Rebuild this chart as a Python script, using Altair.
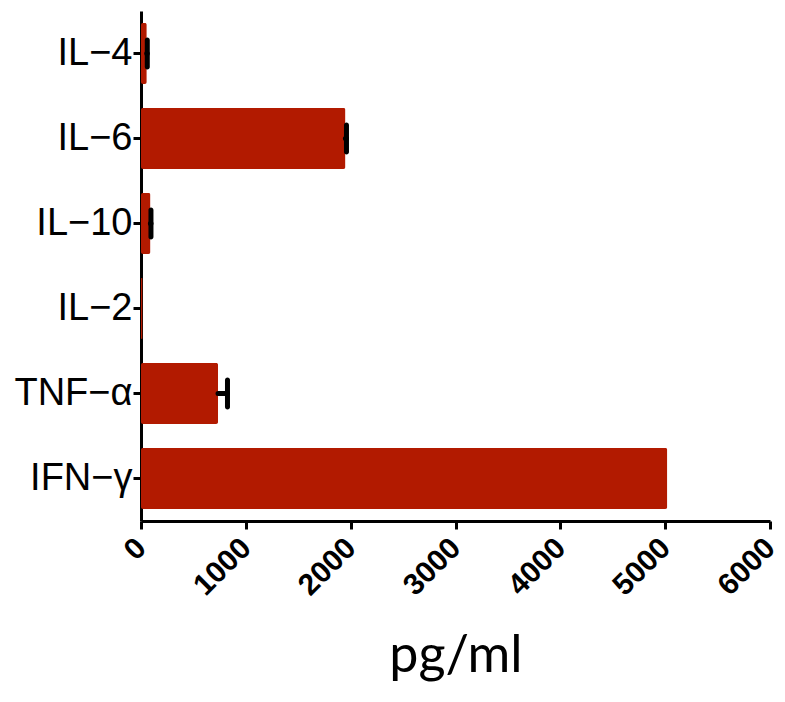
import altair as alt
import pandas as pd

cytokines = ["IL\u22124", "IL\u22126", "IL\u221210", "IL\u22122", "TNF\u2212\u03b1", "IFN\u2212\u03b3"]
means = [55, 1950, 90, 15, 735, 5020]
errors = [5, 10, 5, 0, 90, 0]
x_ticks = [0, 1000, 2000, 3000, 4000, 5000, 6000]

df = pd.DataFrame({"cytokine": cytokines, "mean": means, "err": errors})
df["upper"] = df["mean"] + df["err"]
df_err = df[df["err"] > 0]

red = "#b21a00"

y_axis = alt.Axis(labelFont="Liberation Sans", labelFontSize=38, labelColor="black",
                  labelPadding=1, tickSize=8, tickWidth=3, tickColor="black",
                  domainWidth=3, domainColor="black", grid=False)
x_axis = alt.Axis(values=x_ticks, format="d", labelAngle=-45, labelFont="Liberation Sans",
                  labelFontWeight="bold", labelFontSize=30, labelColor="black",
                  labelAlign="right", labelBaseline="middle",
                  labelPadding=14, labelOverlap=False, labelFlush=False,
                  tickSize=8, tickWidth=3, tickColor="black",
                  domainWidth=3, domainColor="black", grid=False,
                  titleFont="Lato", titleFontSize=52, titleFontWeight="normal",
                  titleColor="black", titlePadding=30)
y_scale = alt.Scale(paddingInner=0.28, paddingOuter=0.14)
x_scale = alt.Scale(domain=[0, 6000], nice=False)


def yenc():
    return alt.Y("cytokine:N", sort=cytokines, title=None, scale=y_scale, axis=y_axis)


bars = alt.Chart(df).mark_bar(color=red, cornerRadius=2).encode(
    x=alt.X("mean:Q", title="pg/ml", scale=x_scale, axis=x_axis), y=yenc())

err_line = alt.Chart(df_err).mark_rule(color="black", strokeWidth=5, strokeCap="round",
                                       opacity=1).encode(
    x=alt.X("mean:Q", title="pg/ml", scale=x_scale, axis=x_axis), x2="upper:Q", y=yenc())

caps = alt.Chart(df_err).mark_tick(color="black", thickness=5, size=32, opacity=1,
                                   orient="vertical", cornerRadius=2.5).encode(
    x=alt.X("upper:Q", title="pg/ml", scale=x_scale, axis=x_axis), y=yenc())

chart = alt.layer(bars, err_line, caps).properties(
    width=629, height=510,
    autosize=alt.AutoSizeParams(type="none"),
    padding={"left": 133, "right": 7, "top": 3, "bottom": 171},
    background="white",
).configure_view(stroke="transparent", strokeWidth=0)

chart.save("out.html", embed_options={"renderer": "svg", "actions": False})
